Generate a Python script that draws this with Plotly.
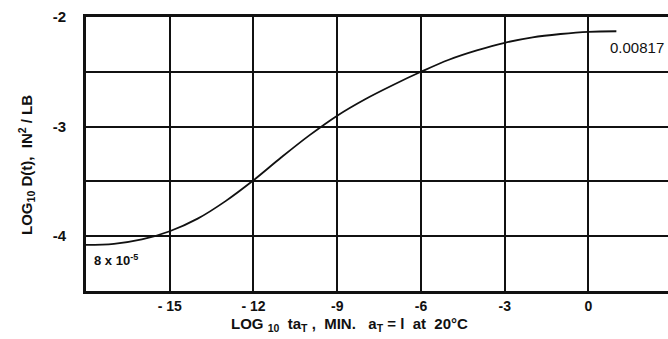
import plotly.graph_objects as go

# Creep compliance master curve: log10 D(t) vs log10 reduced time
log_t = [-18.0, -17, -16, -15, -14, -13, -12, -11, -10, -9, -8, -7, -6, -5, -4, -3, -2, -1, 0, 1]
log_d = [-4.08, -4.07, -4.03, -3.955, -3.84, -3.68, -3.49, -3.28, -3.08, -2.90, -2.75,
         -2.62, -2.50, -2.39, -2.305, -2.235, -2.185, -2.155, -2.135, -2.13]

x_ticks = [-15, -12, -9, -6, -3, 0]
x_tick_text = ["- 15", "- 12", "-9", "-6", "-3", "0"]
y_ticks = [-2, -2.5, -3, -3.5, -4, -4.5]
y_tick_text = ["-2", "", "-3", "", "-4", ""]

ink = "#111111"
face = "Liberation Sans"

fig = go.Figure()
fig.add_trace(go.Scatter(
    x=log_t, y=log_d, mode="lines",
    line=dict(color=ink, width=1.8, shape="spline", smoothing=1.0),
    hoverinfo="skip", showlegend=False,
))

# end-point values of the curve
fig.add_annotation(x=0.7, y=-2.28, text="0.00817",
                   xanchor="left", yanchor="middle", showarrow=False,
                   font=dict(family=face, size=15, color=ink))
fig.add_annotation(x=-17.8, y=-4.22, text="8 x 10<sup>-5</sup>",
                   xanchor="left", yanchor="middle", showarrow=False,
                   font=dict(family=face, size=13, color=ink, weight="bold"))

# axis titles
fig.add_annotation(x=0.452, y=0, xref="paper", yref="paper", yshift=-33,
                   text="LOG <sub>10</sub>  ta<sub>T</sub> ,  MIN.   a<sub>T</sub> = l  at  20°C",
                   xanchor="center", yanchor="middle", showarrow=False,
                   font=dict(family=face, size=15, color=ink, weight="bold"))
fig.add_annotation(x=0, y=0.46, xref="paper", yref="paper", xshift=-59,
                   text="LOG<sub>10</sub> D(t),  IN<sup>2</sup> / LB", textangle=-90,
                   xanchor="center", yanchor="middle", showarrow=False,
                   font=dict(family=face, size=15, color=ink, weight="bold"))

fig.update_layout(
    width=668, height=339,
    margin=dict(l=86, r=0, t=17, b=48),
    paper_bgcolor="white", plot_bgcolor="white",
    xaxis=dict(
        range=[-18.0, 2.85], tickvals=x_ticks, ticktext=x_tick_text,
        showgrid=True, gridcolor=ink, gridwidth=1.6,
        showline=True, linecolor=ink, linewidth=3, mirror=True,
        ticks="", zeroline=False, ticklabelstandoff=0,
        tickfont=dict(family=face, size=14, color=ink, weight="bold"),
    ),
    yaxis=dict(
        range=[-4.5, -2], tickvals=y_ticks, ticktext=y_tick_text,
        showgrid=True, gridcolor=ink, gridwidth=1.6,
        showline=True, linecolor=ink, linewidth=3, mirror=False,
        ticks="", zeroline=False, ticklabelstandoff=14,
        tickfont=dict(family=face, size=15, color=ink, weight="bold"),
    ),
)

fig.write_html("out.html")
